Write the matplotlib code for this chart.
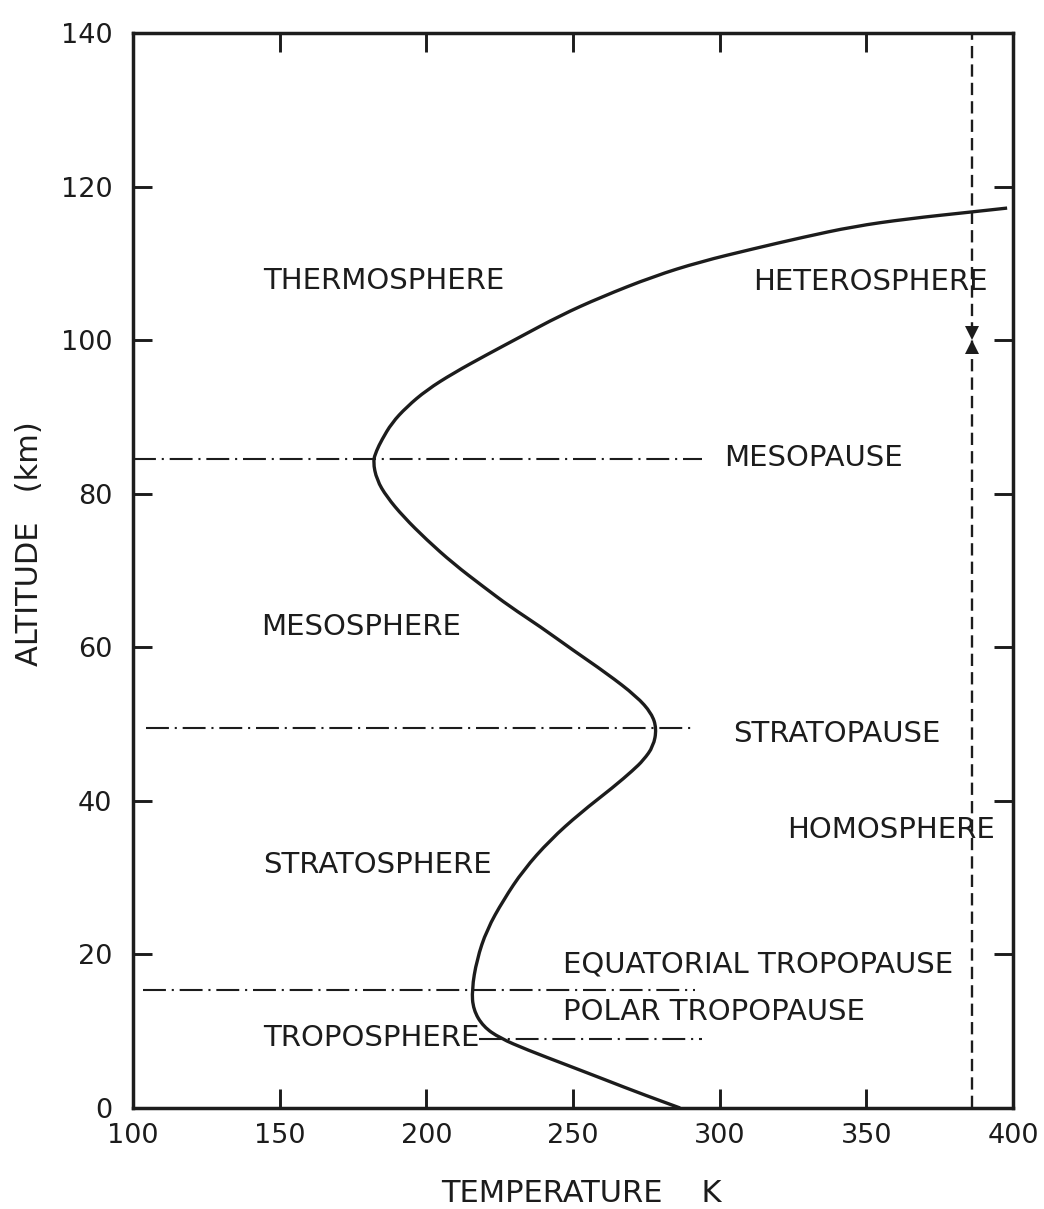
import matplotlib.pyplot as plt
import matplotlib.transforms as mtransforms
from matplotlib.patches import PathPatch
from matplotlib.path import Path

INK = "#1c1c1c"

# temperature profile (altitude km, temperature K)
altitude = [0, 1.9, 3.6, 5.6, 7.6, 9.1, 10.6, 12.8, 15.4, 19.3, 23.2, 27.1, 31.0,
            34.9, 38.4, 41.8, 44.0, 45.3, 47.1, 49.4, 51.4, 53.6, 56.6, 59.6, 62.7,
            65.3, 67.9, 70.9, 74.0, 77.0, 79.6, 81.8, 84.2, 85.6, 87.0, 89.2, 91.3,
            93.5, 95.7, 98.1, 100.4, 103.2, 105.6, 108.3, 110.2, 111.9, 113.4,
            114.8, 115.8, 116.7, 117.2]
temperature = [286.5, 272.9, 261.5, 247.9, 234.2, 225.1, 219.4, 216.0, 215.5, 217.2,
               220.6, 226.3, 233.1, 242.2, 252.4, 263.8, 270.5, 274.0, 277.4, 278.5,
               276.8, 271.7, 261.5, 250.1, 238.8, 228.5, 219.4, 209.2, 200.1, 192.2,
               186.5, 183.1, 181.8, 183.0, 184.8, 188.2, 193.3, 200.1, 209.2, 220.6,
               231.9, 245.6, 259.5, 277.4, 293.3, 311.5, 328.4, 345.6, 364, 386, 398]

# boundary lines: altitude, start T, end T
boundary_alt = [84.5, 49.5, 15.4, 9.0]
boundary_t0 = [100, 104.5, 103.5, 218]
boundary_t1 = [294, 292, 291.5, 294]

# homosphere / heterosphere divider
divider_t = 386
turbopause_alt = 100

# region labels: text, T, altitude (baseline), alignment
labels = ["THERMOSPHERE", "HETEROSPHERE", "MESOPAUSE", "MESOSPHERE", "STRATOPAUSE",
          "HOMOSPHERE", "STRATOSPHERE", "EQUATORIAL TROPOPAUSE", "POLAR TROPOPAUSE",
          "TROPOSPHERE"]
label_t = [144.3, 351.3, 301.5, 143.7, 304.6, 358.4, 144.3, 246.6, 246.6, 144.3]
label_alt = [106.6, 106.5, 83.6, 61.6, 47.7, 35.2, 30.6, 17.7, 11.5, 8.1]
label_ha = ["left", "center", "left", "left", "left", "center", "left", "left", "left", "left"]

xticks = [100, 150, 200, 250, 300, 350, 400]
yticks = [0, 20, 40, 60, 80, 100, 120, 140]

fig = plt.figure(figsize=(10.44, 12.09), dpi=100)
ax = fig.add_axes([133 / 1044, 1 - 1108 / 1209, 880 / 1044, 1075 / 1209])

# smooth profile: read points act as quadratic bezier control points
pts = list(zip(temperature, altitude))
verts = [pts[0]]
codes = [Path.MOVETO]
for p, q in zip(pts[1:-1], pts[2:]):
    verts += [p, ((p[0] + q[0]) / 2, (p[1] + q[1]) / 2)]
    codes += [Path.CURVE3, Path.CURVE3]
verts.append(pts[-1])
codes.append(Path.LINETO)
ax.add_patch(PathPatch(Path(verts, codes), facecolor="none", edgecolor=INK,
                       lw=2.4, capstyle="butt", joinstyle="round"))

for z, t0, t1 in zip(boundary_alt, boundary_t0, boundary_t1):
    ax.plot([t0, t1], [z, z], color=INK, lw=1.5, linestyle=(0, (11, 2.8, 1.0, 2.8)))

ax.plot([divider_t, divider_t], [0, 140], color=INK, lw=1.7, linestyle=(0, (5.2, 2.6)))

# arrowheads meeting at the turbopause
ms = 10.5
up_tr = mtransforms.offset_copy(ax.transData, fig=fig, x=0, y=ms / 2, units="points")
dn_tr = mtransforms.offset_copy(ax.transData, fig=fig, x=0, y=-ms / 2, units="points")
ax.plot([divider_t], [turbopause_alt], marker="v", ms=ms, color=INK, mew=0, transform=up_tr)
ax.plot([divider_t], [turbopause_alt], marker="^", ms=ms, color=INK, mew=0, transform=dn_tr)

for txt, t, z, ha in zip(labels, label_t, label_alt, label_ha):
    ax.text(t, z, txt, ha=ha, va="baseline", fontsize=21, color=INK)

ax.set_xlim(100, 400)
ax.set_ylim(0, 140)
ax.set_xticks(xticks)
ax.set_yticks(yticks)
ax.tick_params(direction="in", length=14, width=2.1, colors=INK, labelsize=19.5,
               top=True, right=True)
ax.tick_params(axis="x", pad=11)
ax.tick_params(axis="y", pad=15)
for sp in ax.spines.values():
    sp.set_linewidth(2.5)
    sp.set_color(INK)

ax.set_xlabel("TEMPERATURE    K", fontsize=22, color=INK, va="center")
ax.set_ylabel("ALTITUDE   (km)", fontsize=22, color=INK, va="center")
ax.xaxis.set_label_coords(0.509, -0.080)
ax.yaxis.set_label_coords(-0.118, 0.525)

fig.savefig("out.png", dpi=100, facecolor="white")
